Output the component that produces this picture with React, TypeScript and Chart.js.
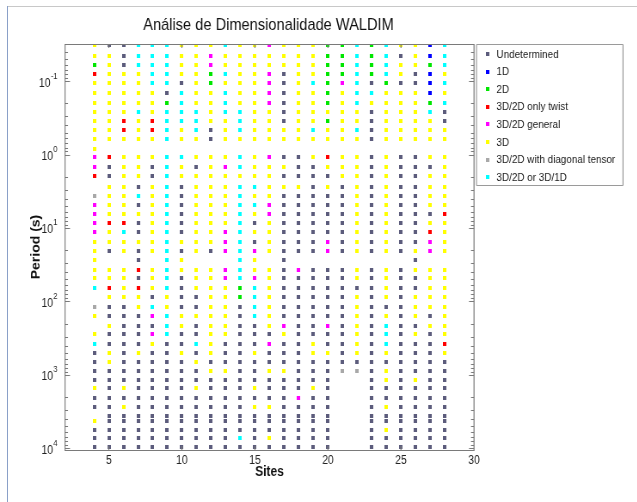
import { useEffect, useRef } from "react";
import { Chart, registerables } from "chart.js";

Chart.register(...registerables);

// horizontal squeeze of the whole figure (reference is horizontally condensed)
const SX = 0.86;
const W = Math.round(637 / SX);
const H = 502;
const FONT = "'Liberation Sans', Arial, Helvetica, sans-serif";

const sites = [4, 5, 6, 7, 8, 9, 10, 11, 12, 13, 14, 15, 16, 17, 18, 19, 20, 21, 22, 23, 24, 25, 26, 27, 28];

const periods = [
  0.0324, 0.0448, 0.0594, 0.0796, 0.1064, 0.1455, 0.1959, 0.2618, 0.3443, 0.4603, 0.6166,
  0.8279,
  1.084, 1.486, 1.982,
  2.729, 3.622, 4.842, 6.486, 8.61, 11.4, 15.31, 20.51,
  27.48,
  36.9, 48.31, 64.86, 86.9, 117.8, 158.5,
  213.8, 279.9, 379.3, 503.5, 666.8, 877.0, 1161, 1524, 2046, 2761, 3664, 4246, 5636, 7311, 9506,
];

const classLabels = [
  "Undetermined",
  "1D",
  "2D",
  "3D/2D only twist",
  "3D/2D general",
  "3D",
  "3D/2D with diagonal tensor",
  "3D/2D or 3D/1D",
];
const classCodes = ["U", "B", "N", "R", "M", "Y", "D", "C"];
const classColors = ["#5c5c7c", "#0000ff", "#00e600", "#ff0000", "#ff00ff", "#ffff00", "#a8a8a8", "#00ffff"];

// one string per site, one letter per period (groups separated by spaces for readability)
const siteClasses = [
  "YYNRYYYYYYY Y MMR .DMMMMYY Y YYC.DY .YCUUUUYUU.YUUU", // 4
  "UYYYYYYYYYY . RUU YYYYRYYU . YYRYUU YUUYYUUUUUUUUUU", // 5
  "UUUYYYYYRRY . YYY YYYYRCYY . YYYYUU UUUUUUUYUYUUUUU", // 6
  "CCCYYYYCYYY . YYY UCUYUUYU U RURYYU UUUYUUUUUUUUUUU", // 7
  "CCCCCYYYRRY . YUU YYYYYYYY . YYYUCM UMYUUUUUUUUUUUU", // 8
  "CCCCCUNCCCC . CCC CCCCCCCC C CCCYYC CCUUUUUUUUUUUUU", // 9
  "YYYYUCCCCYY . CYY UUUUUUYU Y YUUUUY YUUYUUUUUUUUUUU", // 10
  "YYYYYYYCCCY . YUY YYYYYYYY . YYYUUY UUCUYUUYUUUUUUU", // 11
  "YMMNNYYYYUU . YYY YYYYYYYU . YYYYYY YYYYUYUUUUUUUUU", // 12
  "CYYCYCCCYYY . YMY YYYYYMMM . MMYYYY YYUUUYUUUUUUUUU", // 13
  "YYYYYYYCCCY . CCY CCCCCCCC C CCNNUU UUUUUUUUUUUUUCU", // 14
  "YYYYYYYYYYY . YYY CYCYUYUM Y YMCCCC UUUYUUUYUYUUUUU", // 15
  "MYYMMMMYYYY . MYY YYMMYYYY . YYYYYY YUMUUYUUUYUUUYU", // 16
  "YYYUUUUUUYY . UYU YUUUUUUU U UUUUUU MYUUUYUUUUUUUUU", // 17
  "YYYYYYYYYYY . UUU YUUUUUUU . MUUUUU UUUUUUUUMUUUUUU", // 18
  "YYYYCYYYYCY . YUU UUUUUUUU . UUUUUU UUYYUUUYUUUUUUU", // 19
  "NNNNNNNYNYY . RYU YUUUUUMM . UUUUUU MUUYUUUUUUUUUUU", // 20
  "NNNNMYYYYYY . YYY UUUUUUUU . UUUUUU UUUUUD.........", // 21
  "CCCCCCCYYCY . YYY YYYYYYYY . YYUYYY YYYYUD.........", // 22
  "NNNNUCYUUUU . UUU UUUUUUUU . UUUUUU UUUUUUUUUUUUUUU", // 23
  "CCCCNYYYYYY . YYY YYYYYYYY . YYYYUY CCCYUYYUUYUUYUU", // 24
  "YUYYUYYYYYY . UUU UUUUUUUU . UUUUUU UUUUUUUUUUUUUUU", // 25
  "YYYUUYYYYYY . UUU UUUUUUUY U YUUYYY UYUUUUYUUUUUUUU", // 26
  "BBNBBBNCYYY . YUY YYYUYRMM . YYYYYU YUUUUUUUUUUUUUU", // 27
  "CCCYCYCUUYY . YYY YYYRYYYY . YYYYYY YYRYUUUUUUUUUUU", // 28
];

const xTickValues = [5, 10, 15, 20, 25, 30];
const yTickExponents = [-1, 0, 1, 2, 3, 4];
const xRange = [2, 30];
const yRange = [0.0311, 10540];

function makeMarker(color: string) {
  const c = document.createElement("canvas");
  c.width = 4;
  c.height = 4;
  const g = c.getContext("2d")!;
  g.fillStyle = color;
  g.fillRect(0, 0, 4, 4);
  return c;
}

const decorPlugin = {
  id: "decor",
  afterDraw(chart: any) {
    const ctx: CanvasRenderingContext2D = chart.ctx;
    const { left, right, top, bottom } = chart.chartArea;
    const xs = chart.scales.x;
    const ys = chart.scales.y;
    ctx.save();
    ctx.strokeStyle = "#7a7a7a";
    // horizontal box lines
    ctx.lineWidth = 1;
    ctx.beginPath();
    ctx.moveTo(left, Math.round(top) + 0.5);
    ctx.lineTo(right, Math.round(top) + 0.5);
    ctx.moveTo(left, Math.round(bottom) + 0.5);
    ctx.lineTo(right, Math.round(bottom) + 0.5);
    ctx.stroke();
    // vertical box lines
    ctx.lineWidth = 1 / SX;
    ctx.beginPath();
    ctx.moveTo(left, top);
    ctx.lineTo(left, bottom + 1);
    ctx.moveTo(right, top);
    ctx.lineTo(right, bottom + 1);
    // x ticks
    for (const v of xTickValues) {
      const px = xs.getPixelForValue(v);
      ctx.moveTo(px, bottom);
      ctx.lineTo(px, bottom - 4);
      ctx.moveTo(px, top);
      ctx.lineTo(px, top + 4);
    }
    ctx.stroke();
    // y ticks (major + minor log ticks)
    ctx.lineWidth = 1;
    ctx.beginPath();
    for (let e = -2; e <= 4; e++) {
      for (let m = 1; m <= 9; m++) {
        const v = m * Math.pow(10, e);
        if (v < ys.min || v > ys.max) continue;
        const py = Math.round(ys.getPixelForValue(v)) + 0.5;
        const len = (m === 1 ? 5 : 3) / SX;
        ctx.moveTo(left, py);
        ctx.lineTo(left + len, py);
        ctx.moveTo(right, py);
        ctx.lineTo(right - len, py);
      }
    }
    ctx.stroke();

    // y tick labels 10^k
    ctx.fillStyle = "#222";
    for (const e of yTickExponents) {
      const py = ys.getPixelForValue(Math.pow(10, e));
      const expText = String(e);
      ctx.font = `8.5px ${FONT}`;
      const ew = ctx.measureText(expText).width;
      const xEnd = left - 8 / SX - ew;
      ctx.textBaseline = "middle";
      ctx.textAlign = "left";
      ctx.fillText(expText, xEnd + 0.5, py - 5);
      ctx.font = `12px ${FONT}`;
      ctx.textAlign = "right";
      ctx.fillText("10", xEnd, py + 2);
    }

    // title
    ctx.fillStyle = "#111";
    ctx.font = `17px ${FONT}`;
    ctx.textAlign = "center";
    ctx.textBaseline = "middle";
    ctx.fillText("Análise de Dimensionalidade WALDIM", (left + right) / 2 - 1 / SX, 25);

    // legend
    const lx0 = 476.5 / SX;
    const lx1 = 623 / SX;
    const ly0 = 44.5;
    const ly1 = 185.5;
    ctx.fillStyle = "#fff";
    ctx.fillRect(lx0, ly0, lx1 - lx0, ly1 - ly0);
    ctx.strokeStyle = "#9a9a9a";
    ctx.lineWidth = 1;
    ctx.beginPath();
    ctx.moveTo(lx0, ly0);
    ctx.lineTo(lx1, ly0);
    ctx.moveTo(lx0, ly1);
    ctx.lineTo(lx1, ly1);
    ctx.stroke();
    ctx.lineWidth = 1 / SX;
    ctx.beginPath();
    ctx.moveTo(lx0, ly0);
    ctx.lineTo(lx0, ly1);
    ctx.moveTo(lx1, ly0);
    ctx.lineTo(lx1, ly1);
    ctx.stroke();
    ctx.font = `11.5px ${FONT}`;
    ctx.textAlign = "left";
    ctx.textBaseline = "middle";
    chart.data.datasets.forEach((ds: any, k: number) => {
      const yk = 54 + k * 17.6;
      const m = ds.pointStyle as HTMLCanvasElement;
      ctx.drawImage(m, 487.5 / SX - m.width / 2, yk - m.height / 2);
      ctx.fillStyle = "#1a1a1a";
      ctx.fillText(ds.label, 496.5 / SX, yk + 0.5);
    });
    ctx.restore();
  },
};

export default function App() {
  const ref = useRef<HTMLCanvasElement>(null);
  useEffect(() => {
    document.body.style.margin = "0";
    const markers = classColors.map(makeMarker);
    const datasets = classLabels.map((label, k) => {
      const data: { x: number; y: number }[] = [];
      sites.forEach((s, i) => {
        const codes = siteClasses[i].replace(/ /g, "");
        for (let j = 0; j < periods.length; j++) {
          if (codes[j] === classCodes[k]) data.push({ x: s, y: periods[j] });
        }
      });
      return {
        label,
        data,
        pointStyle: markers[k],
        pointRadius: 2,
        pointHoverRadius: 2,
        backgroundColor: classColors[k],
        borderColor: classColors[k],
        borderWidth: 0,
      };
    });

    const chart = new Chart(ref.current!, {
      type: "scatter",
      data: { datasets },
      options: {
        animation: false,
        responsive: false,
        maintainAspectRatio: false,
        devicePixelRatio: 1,
        events: [],
        layout: { padding: { left: 0, top: 44, right: W - 474 / SX, bottom: 0 } },
        plugins: {
          legend: { display: false },
          tooltip: { enabled: false },
          title: { display: false },
        },
        scales: {
          x: {
            type: "linear",
            min: xRange[0],
            max: xRange[1],
            afterBuildTicks: (s: any) => {
              s.ticks = xTickValues.map((v) => ({ value: v }));
            },
            afterFit: (s: any) => {
              s.height = 52;
            },
            grid: { display: false, drawTicks: false },
            border: { display: false },
            ticks: {
              font: { family: FONT, size: 12 },
              color: "#222",
              padding: 3,
              maxRotation: 0,
              autoSkip: false,
            },
            title: {
              display: true,
              text: "Sites",
              font: { family: FONT, size: 14, weight: "bold" },
              color: "#111",
              padding: { top: 0, bottom: 21 },
            },
          },
          y: {
            type: "logarithmic",
            reverse: true,
            min: yRange[0],
            max: yRange[1],
            afterFit: (s: any) => {
              s.width = 65 / SX;
            },
            grid: { display: false, drawTicks: false },
            border: { display: false },
            ticks: { display: false },
            title: {
              display: true,
              text: "Period (s)",
              font: { family: FONT, size: 14, weight: "bold" },
              color: "#111",
              padding: { top: 34, bottom: 0 },
            },
          },
        },
      },
      plugins: [decorPlugin],
    } as any);
    return () => chart.destroy();
  }, []);

  return (
    <div style={{ position: "relative", width: 637, height: 502, overflow: "hidden", background: "#fff" }}>
      <div
        style={{
          position: "absolute",
          left: 0,
          top: 0,
          width: W,
          height: H,
          transform: `scaleX(${SX})`,
          transformOrigin: "0 0",
        }}
      >
        <canvas ref={ref} width={W} height={H} style={{ width: W, height: H, display: "block" }} />
      </div>
      <div style={{ position: "absolute", left: 7, top: 6, right: 0, height: 1, background: "#c8c8c8" }} />
      <div style={{ position: "absolute", left: 7, top: 6, bottom: 0, width: 1, background: "#8aa0c8" }} />
    </div>
  );
}
